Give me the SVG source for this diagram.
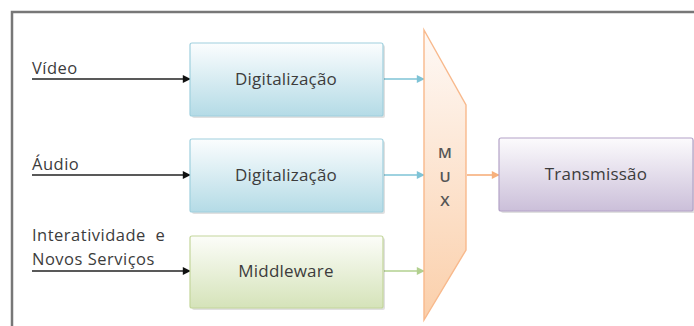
<svg xmlns="http://www.w3.org/2000/svg" width="694" height="326" viewBox="0 0 694 326">
<defs>
<linearGradient id="gBlue" x1="0" y1="0" x2="0" y2="1"><stop offset="0" stop-color="#fbfdfe"/><stop offset="1" stop-color="#b4dbe6"/></linearGradient>
<linearGradient id="gGreen" x1="0" y1="0" x2="0" y2="1"><stop offset="0" stop-color="#fcfdf9"/><stop offset="1" stop-color="#d5e3b9"/></linearGradient>
<linearGradient id="gPurple" x1="0" y1="0" x2="0" y2="1"><stop offset="0" stop-color="#fcfbfd"/><stop offset="1" stop-color="#cbbfd9"/></linearGradient>
<linearGradient id="gOrange" x1="0" y1="0" x2="0" y2="1"><stop offset="0" stop-color="#fef9f6"/><stop offset="1" stop-color="#fbcfaa"/></linearGradient>
<marker id="aBlack" viewBox="0 0 10 10" refX="9" refY="5" markerWidth="10" markerHeight="8" markerUnits="userSpaceOnUse" orient="auto"><path d="M0,0 L10,5 L0,10 z" fill="#111"/></marker>
<marker id="aBlue" viewBox="0 0 10 10" refX="9" refY="5" markerWidth="10" markerHeight="8" markerUnits="userSpaceOnUse" orient="auto"><path d="M0,0 L10,5 L0,10 z" fill="#7ec3d6"/></marker>
<marker id="aGreen" viewBox="0 0 10 10" refX="9" refY="5" markerWidth="10" markerHeight="8" markerUnits="userSpaceOnUse" orient="auto"><path d="M0,0 L10,5 L0,10 z" fill="#b2d08f"/></marker>
<marker id="aOrange" viewBox="0 0 10 10" refX="9" refY="5" markerWidth="10" markerHeight="8" markerUnits="userSpaceOnUse" orient="auto"><path d="M0,0 L10,5 L0,10 z" fill="#f7b07c"/></marker>
</defs>
<style>
text{font-family:"Open Sans","Liberation Sans",sans-serif;fill:#3c3c3c;}
.box{font-size:17px;text-anchor:middle;letter-spacing:0.2px;}
.lbl{font-size:16.5px;letter-spacing:0.5px;}
.mux{font-size:15px;text-anchor:middle;font-weight:600;fill:#555;}
.shadow{fill:#000;opacity:0.12;}
</style>
<rect x="0" y="0" width="694" height="326" fill="#fff"/>
<path d="M12,326 L12,12 L694,12" fill="none" stroke="#777" stroke-width="2.5"/>

<g id="connectors" fill="none" stroke-width="1.6">
<line x1="32" y1="79" x2="190" y2="79" stroke="#222" marker-end="url(#aBlack)"/>
<line x1="32" y1="175" x2="190" y2="175" stroke="#222" marker-end="url(#aBlack)"/>
<line x1="32" y1="271" x2="190" y2="271" stroke="#222" marker-end="url(#aBlack)"/>
<line x1="384" y1="79" x2="424" y2="79" stroke="#7ec3d6" marker-end="url(#aBlue)"/>
<line x1="384" y1="175" x2="424" y2="175" stroke="#7ec3d6" marker-end="url(#aBlue)"/>
<line x1="384" y1="271" x2="424" y2="271" stroke="#b2d08f" marker-end="url(#aGreen)"/>
<line x1="467" y1="175" x2="499" y2="175" stroke="#f7b07c" marker-end="url(#aOrange)"/>
</g>

<g id="lbl-video"><text class="lbl" x="32" y="74">Vídeo</text></g>
<g id="lbl-audio"><text class="lbl" x="32" y="170">Áudio</text></g>
<g id="lbl-inter"><text class="lbl" x="32" y="241" xml:space="preserve">Interatividade  e</text><text class="lbl" x="32" y="265">Novos Serviços</text></g>

<g id="dig1">
<rect class="shadow" x="192" y="45" width="193" height="73" rx="2"/>
<rect x="190" y="43" width="193" height="73" rx="2" fill="url(#gBlue)" stroke="#9fd0de" stroke-width="1.2"/>
<text class="box" x="286" y="85">Digitalização</text>
</g>
<g id="dig2">
<rect class="shadow" x="192" y="141" width="193" height="73" rx="2"/>
<rect x="190" y="139" width="193" height="73" rx="2" fill="url(#gBlue)" stroke="#9fd0de" stroke-width="1.2"/>
<text class="box" x="286" y="181">Digitalização</text>
</g>
<g id="middleware">
<rect class="shadow" x="192" y="238" width="193" height="72" rx="2"/>
<rect x="190" y="236" width="193" height="72" rx="2" fill="url(#gGreen)" stroke="#c3d69b" stroke-width="1.2"/>
<text class="box" x="286" y="277">Middleware</text>
</g>
<g id="mux">
<polygon points="424,30 466,105 466,250 424,320" fill="url(#gOrange)" stroke="#f8b98c" stroke-width="1.4"/>
<text class="mux" x="445" y="158">M</text>
<text class="mux" x="445" y="182">U</text>
<text class="mux" x="445" y="206">X</text>
</g>
<g id="transmissao">
<rect class="shadow" x="501" y="140" width="194" height="73" rx="2"/>
<rect x="499" y="138" width="194" height="73" rx="2" fill="url(#gPurple)" stroke="#b3a2c7" stroke-width="1.2"/>
<text class="box" x="596" y="180">Transmissão</text>
</g>
</svg>
